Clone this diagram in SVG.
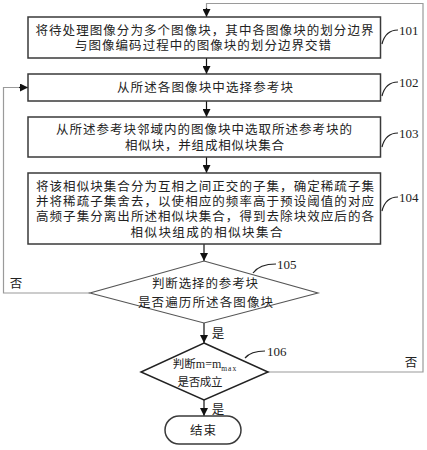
<svg xmlns="http://www.w3.org/2000/svg" width="427" height="450" viewBox="0 0 427 450">
<style>
.box{fill:#fff;stroke:#3a3a3a;stroke-width:1.5}
.t{font-family:"Liberation Serif","Noto Sans CJK SC",serif;font-size:12.5px;fill:#222;text-anchor:middle}
.n{font-family:"Liberation Serif",serif;font-size:13px;fill:#222}
.c{fill:none;stroke:#111;stroke-width:1.2}
.loop{fill:none;stroke:#9a9a9a;stroke-width:1.2}
.lead{fill:none;stroke:#222;stroke-width:1.2}
</style>
<defs>
<marker id="ah" markerWidth="8" markerHeight="8" refX="8" refY="4" orient="auto" markerUnits="userSpaceOnUse">
<path d="M0,0 L8,4 L0,8 Z" fill="#111"/>
</marker>
</defs>
<rect width="427" height="450" fill="#fff"/>
<g id="connectors">
<path class="loop" d="M268,372 H423 V3.5 H206.5 V9" />
<path class="c" d="M206.5,8 V17" marker-end="url(#ah)"/>
<path class="c" d="M206.5,58 V74" marker-end="url(#ah)"/>
<path class="c" d="M206.5,101 V117" marker-end="url(#ah)"/>
<path class="c" d="M206.5,157 V173" marker-end="url(#ah)"/>
<path class="c" d="M204,244 V261" marker-end="url(#ah)"/>
<path class="c" d="M204,323 V343" marker-end="url(#ah)"/>
<path class="c" d="M204,400 V416" marker-end="url(#ah)"/>
<path class="loop" d="M90,293 H3.5 V87.5 H20"/>
<path class="c" d="M19,87.5 H28" marker-end="url(#ah)"/>
<text class="t" x="218" y="337.5">是</text>
<text class="t" x="218" y="413.5">是</text>
<text class="t" x="16" y="287.5">否</text>
<text class="t" x="411" y="366.5">否</text>
</g>
<g id="n101">
<rect class="box" x="28" y="17" width="352.5" height="41"/>
<text class="t" x="204.5" y="35" textLength="338" lengthAdjust="spacing">将待处理图像分为多个图像块，其中各图像块的划分边界</text>
<text class="t" x="203" y="50" textLength="256" lengthAdjust="spacing">与图像编码过程中的图像块的划分边界交错</text>
<path class="lead" d="M382,44 C384,36 388,30 398,30"/>
<text class="n" x="399" y="34.5">101</text>
</g>
<g id="n102">
<rect class="box" x="28" y="74" width="352.5" height="27"/>
<text class="t" x="205" y="92" textLength="176" lengthAdjust="spacing">从所述各图像块中选择参考块</text>
<path class="lead" d="M382,96 C384,88 388,82 398,82"/>
<text class="n" x="399" y="86.5">102</text>
</g>
<g id="n103">
<rect class="box" x="28" y="117" width="352.5" height="40"/>
<text class="t" x="204" y="134" textLength="296" lengthAdjust="spacing">从所述参考块邻域内的图像块中选取所述参考块的</text>
<text class="t" x="204.5" y="150" textLength="159" lengthAdjust="spacing">相似块，并组成相似块集合</text>
<path class="lead" d="M382,147 C384,139 388,133 398,133"/>
<text class="n" x="399" y="137.5">103</text>
</g>
<g id="n104">
<rect class="box" x="28" y="173" width="352.5" height="71"/>
<text class="t" x="205" y="191" textLength="338" lengthAdjust="spacing">将该相似块集合分为互相之间正交的子集，确定稀疏子集</text>
<text class="t" x="205" y="206" textLength="338" lengthAdjust="spacing">并将稀疏子集舍去，以使相应的频率高于预设阈值的对应</text>
<text class="t" x="205" y="221" textLength="338" lengthAdjust="spacing">高频子集分离出所述相似块集合，得到去除块效应后的各</text>
<text class="t" x="206.5" y="237" textLength="152" lengthAdjust="spacing">相似块组成的相似块集合</text>
<path class="lead" d="M382,211 C384,203 388,197 398,197"/>
<text class="n" x="399" y="201.5">104</text>
</g>
<g id="n105">
<polygon points="204,261 318,293 204,323 90,293" fill="#fff" stroke="#555" stroke-width="1.1"/>
<text class="t" x="205" y="288" textLength="106" lengthAdjust="spacing">判断选择的参考块</text>
<text class="t" x="205.5" y="307" textLength="135" lengthAdjust="spacing">是否遍历所述各图像块</text>
<path class="lead" d="M253,273 C258,266 266,264 276,264"/>
<text class="n" x="277" y="268.5">105</text>
</g>
<g id="n106">
<polygon points="204,343 268,372 204,400 141,372" fill="#fff" stroke="#222" stroke-width="1.5"/>
<text class="t" x="205" y="368" style="font-size:11.5px">判断<tspan style="font-family:'Liberation Serif',serif;font-size:12px">m=m</tspan><tspan style="font-family:'Liberation Serif',serif;font-size:7.5px;letter-spacing:1px" dy="2.5">max</tspan></text>
<text class="t" x="200" y="386" style="font-size:11.5px" textLength="45" lengthAdjust="spacing">是否成立</text>
<path class="lead" d="M245,358 C250,352 257,351 265,351"/>
<text class="n" x="267" y="355.5">106</text>
</g>
<g id="end">
<rect class="box" x="165" y="416" width="76" height="28" rx="14" ry="14" stroke-width="1.2"/>
<text class="t" x="203" y="435" textLength="26" lengthAdjust="spacing">结束</text>
</g>
</svg>
